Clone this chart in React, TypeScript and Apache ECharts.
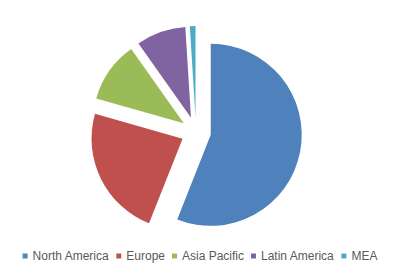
import React, { useEffect, useRef } from "react";
import * as echarts from "echarts";

const categories = ["North America", "Europe", "Asia Pacific", "Latin America", "MEA"];
const shares = [56.0, 23.4, 10.8, 8.8, 1.0];
const colors = ["#4F81BD", "#C0504D", "#9BBB59", "#8064A2", "#4BACC6"];

export default function App() {
  const ref = useRef<HTMLDivElement>(null);
  useEffect(() => {
    if (!ref.current) return;
    const chart = echarts.init(ref.current, undefined, { renderer: "svg" });
    chart.setOption({
      animation: false,
      backgroundColor: "#ffffff",
      color: colors,
      legend: {
        data: categories,
        left: "center",
        top: 245,
        icon: "rect",
        itemWidth: 5,
        itemHeight: 5,
        itemGap: 7,
        textStyle: {
          color: "#595959",
          fontSize: 12,
          fontFamily: "Liberation Sans, Arial, sans-serif",
        },
      },
      series: [
        {
          type: "pie",
          center: [196, 132],
          radius: [0, 91],
          startAngle: 90,
          clockwise: true,
          selectedMode: "multiple",
          selectedOffset: 15,
          label: { show: false },
          labelLine: { show: false },
          emphasis: { disabled: true },
          itemStyle: { borderWidth: 0 },
          data: categories.map((name, i) => ({
            name,
            value: shares[i],
            selected: true,
          })),
        },
      ],
    });
    return () => chart.dispose();
  }, []);
  return (
    <div style={{ margin: -8 }}>
      <div ref={ref} style={{ width: 400, height: 272 }} />
    </div>
  );
}
